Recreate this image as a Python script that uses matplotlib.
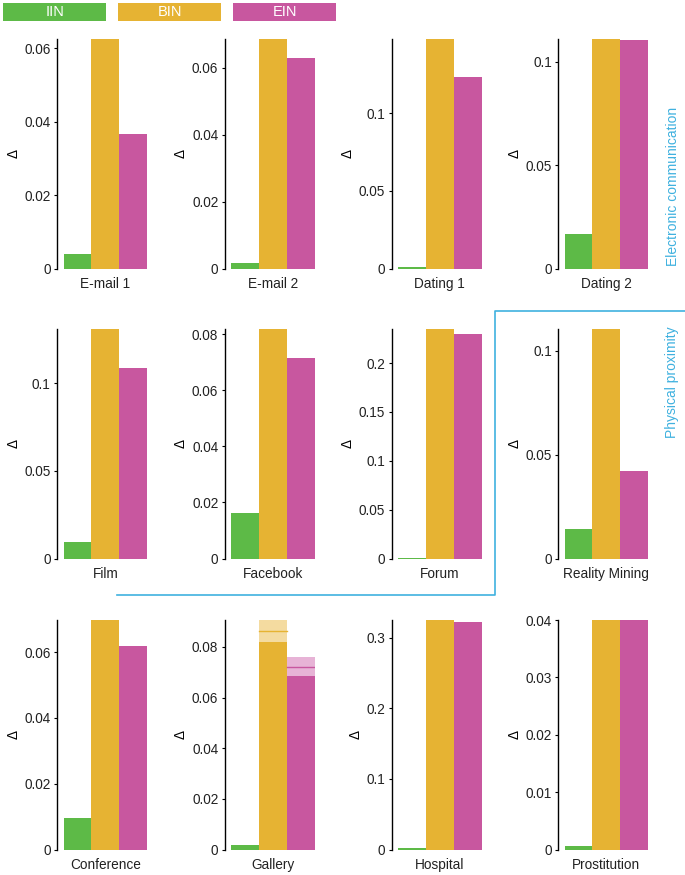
import matplotlib
matplotlib.use("Agg")
import matplotlib.pyplot as plt
from matplotlib.ticker import MultipleLocator, FuncFormatter
from matplotlib.patches import Rectangle
from matplotlib.lines import Line2D

plt.rcParams['font.family'] = ['Liberation Sans', 'DejaVu Sans']

datasets = ['E-mail 1', 'E-mail 2', 'Dating 1', 'Dating 2',
            'Film', 'Facebook', 'Forum', 'Reality Mining',
            'Conference', 'Gallery', 'Hospital', 'Prostitution']
series = ['IIN', 'BIN', 'EIN']
iin = [0.0039, 0.0015, 0.0010, 0.0165, 0.0095, 0.0162, 0.0008, 0.0141, 0.0096, 0.0017, 0.0018, 0.00065]
bin_ = [0.0625, 0.0686, 0.1477, 0.1110, 0.1310, 0.0819, 0.2349, 0.1105, 0.0698, 0.0863, 0.3249, 0.0400]
ein = [0.0366, 0.0630, 0.1234, 0.1105, 0.1090, 0.0716, 0.2301, 0.0419, 0.0620, 0.0722, 0.3225, 0.0400]
# spread (only Gallery has a visible band)
bin_err = [0, 0, 0, 0, 0, 0, 0, 0, 0, 0.0043, 0, 0]
ein_err = [0, 0, 0, 0, 0, 0, 0, 0, 0, 0.0037, 0, 0]
tick_steps = [0.02, 0.02, 0.05, 0.05, 0.05, 0.02, 0.05, 0.05, 0.02, 0.02, 0.1, 0.01]

colors = ['#5dba47', '#e6b333', '#c8579f']
light = ['#a8dc9b', '#f4dba0', '#e7b3d6']
cyan = '#3fb1df'

W, H = 685, 875
fig = plt.figure(figsize=(W / 100, H / 100), dpi=100)

col_left = [57, 224.5, 391.5, 558]
row_top = [39, 329, 620]
ax_w, ax_h = 90, 229.5

fs = 9.8
for i, name in enumerate(datasets):
    r, c = divmod(i, 4)
    x0 = col_left[c]
    y0 = row_top[r] + ax_h
    ax = fig.add_axes([x0 / W, 1 - y0 / H, ax_w / W, ax_h / H])
    vals = [iin[i], bin_[i], ein[i]]
    errs = [0, bin_err[i], ein_err[i]]
    top = 0
    for k in range(3):
        base = vals[k] - errs[k]
        ax.bar(k, base, width=1.0, color=colors[k], linewidth=0, align='center')
        if errs[k] > 0:
            ax.bar(k, 2 * errs[k], bottom=base, width=1.0, color=light[k], linewidth=0)
            ax.plot([k - 0.5, k + 0.5], [vals[k], vals[k]], color=colors[k], lw=1.0)
        top = max(top, vals[k] + errs[k])
    ax.set_xlim(-0.74, 2.5)
    ax.set_ylim(0, top)
    for s in ['top', 'right', 'bottom']:
        ax.spines[s].set_visible(False)
    ax.spines['left'].set_linewidth(1.0)
    ax.yaxis.set_major_locator(MultipleLocator(tick_steps[i]))
    ax.yaxis.set_major_formatter(FuncFormatter(lambda v, p: '%g' % round(v, 6)))
    ax.tick_params(axis='y', direction='out', length=2.5, width=0.8, labelsize=fs, pad=2,
                   labelcolor='#222222')
    ax.set_xticks([1])
    ax.set_xticklabels([name], fontsize=fs, color='#222222')
    ax.tick_params(axis='x', length=0, pad=6)
    ax.set_ylabel('Δ', fontsize=fs, labelpad=3)
    ax.set_facecolor('none')

# legend boxes
leg_x = [3.3, 118.3, 233.3]
for k, s in enumerate(series):
    x = leg_x[k]
    fig.patches.append(Rectangle((x / W, 1 - 20.7 / H), 103 / W, 17.4 / H,
                                 transform=fig.transFigure, color=colors[k], lw=0))
    fig.text((x + 51.5) / W, 1 - 12 / H, s, color='white', fontsize=10.5,
             ha='center', va='center')

# separator line
xs = [117, 495, 495, 685]
ys = [594.5, 594.5, 311, 311]
fig.lines.append(Line2D([x / W for x in xs], [1 - y / H for y in ys],
                        transform=fig.transFigure, color=cyan, lw=1.2))

fig.text(673 / W, 1 - 186 / H, 'Electronic communication', rotation=90,
         color=cyan, fontsize=10, ha='center', va='center')
fig.text(672 / W, 1 - 382 / H, 'Physical proximity', rotation=90,
         color=cyan, fontsize=10, ha='center', va='center')

fig.savefig('out.png', dpi=100)
